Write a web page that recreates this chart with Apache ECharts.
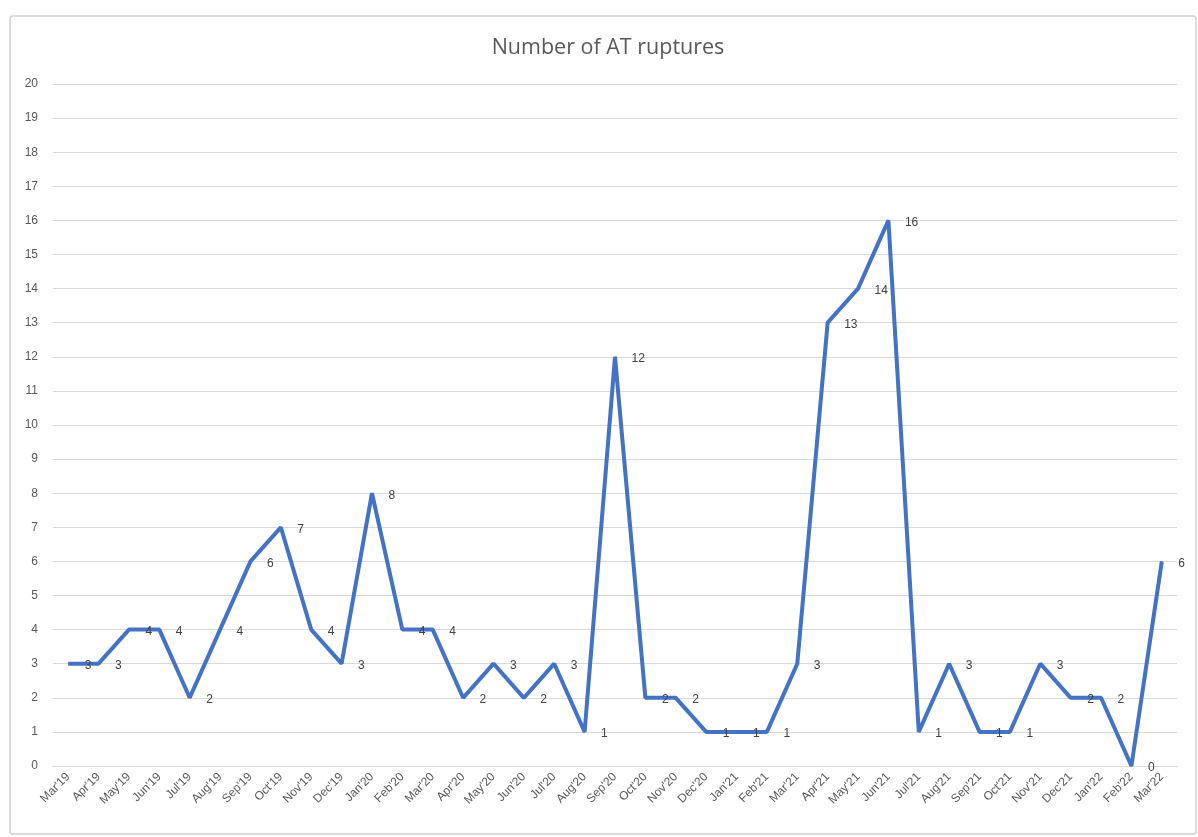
<!DOCTYPE html>
<html>
<head>
<meta charset="utf-8">
<script src="https://cdn.jsdelivr.net/npm/echarts@6/dist/echarts.min.js"></script>
<style>
html,body{margin:0;padding:0;background:#fff;}
#main{width:1198px;height:837px;}
</style>
</head>
<body>
<div id="main"></div>
<script>
const categories = ["Mar'19","Apr'19","May'19","Jun'19","Jul'19","Aug'19","Sep'19","Oct'19","Nov'19","Dec'19",
  "Jan'20","Feb'20","Mar'20","Apr'20","May'20","Jun'20","Jul'20","Aug'20","Sep'20","Oct'20","Nov'20","Dec'20",
  "Jan'21","Feb'21","Mar'21","Apr'21","May'21","Jun'21","Jul'21","Aug'21","Sep'21","Oct'21","Nov'21","Dec'21",
  "Jan'22","Feb'22","Mar'22"];
const ruptures = [3,3,4,4,2,4,6,7,4,3,
  8,4,4,2,3,2,3,1,12,2,2,1,
  1,1,3,13,14,16,1,3,1,1,3,2,
  2,0,6];
const yTicks = {min:0, max:20, interval:1};
const titleText = "Number of AT ruptures";

const chart = echarts.init(document.getElementById('main'), null, {renderer:'canvas'});
const FONT = "'Liberation Sans', 'Noto Sans', sans-serif";
chart.setOption({
  backgroundColor:'#ffffff',
  animation:false,
  textStyle:{fontFamily:FONT},
  graphic:[
    {type:'rect', shape:{x:10, y:16, width:1186, height:818, r:3},
     style:{fill:'none', stroke:'#d0d0d0', lineWidth:1.5}, z:-10}
  ],
  title:{
    text:titleText, left:603, top:32, textAlign:'center',
    textStyle:{fontFamily:"'Open Sans', sans-serif", fontSize:21.5, fontWeight:'normal', color:'#595959'}
  },
  grid:{left:53, right:21, top:84, bottom:71, containLabel:false},
  xAxis:{
    type:'category', data:categories, boundaryGap:true,
    axisLine:{show:true, lineStyle:{color:'#d9d9d9', width:1}},
    axisTick:{show:false},
    axisLabel:{rotate:45, interval:0, fontSize:12, color:'#595959', margin:9, fontFamily:FONT},
    splitLine:{show:false}
  },
  yAxis:{
    type:'value', min:yTicks.min, max:yTicks.max, interval:yTicks.interval,
    axisLine:{show:false}, axisTick:{show:false},
    axisLabel:{fontSize:12, color:'#595959', margin:15, fontFamily:FONT},
    splitLine:{show:true, lineStyle:{color:'#d9d9d9', width:1}}
  },
  series:[{
    type:'line', data:ruptures,
    symbol:'circle', symbolSize:1, showSymbol:true,
    lineStyle:{color:'#4472C4', width:4},
    itemStyle:{color:'#4472C4'},
    label:{show:true, position:'right', distance:16, offset:[0,2],
      fontSize:12, color:'#404040', fontFamily:FONT},
    z:3
  }]
});
</script>
</body>
</html>
